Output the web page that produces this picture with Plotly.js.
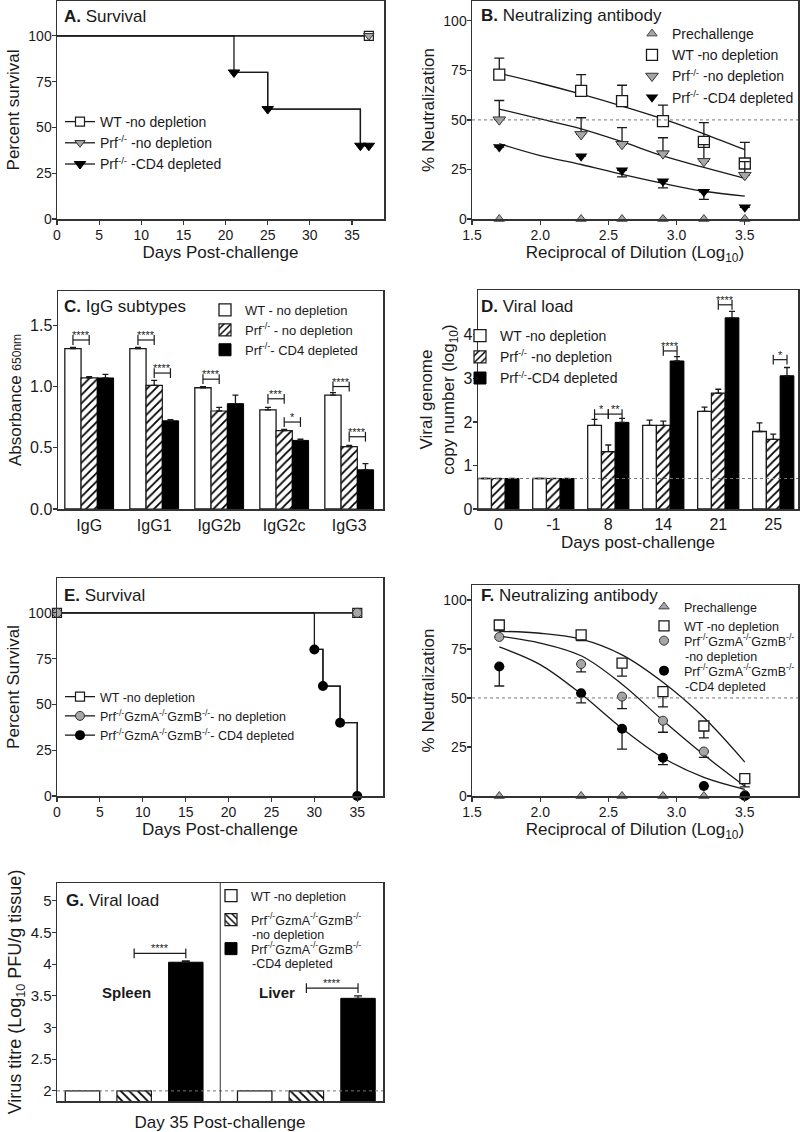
<!DOCTYPE html>
<html><head><meta charset="utf-8">
<script src="https://cdn.plot.ly/plotly-3.0.1.min.js"></script>
<style>body{margin:0;background:#fff}#chart{width:800px;height:1132px}</style>
</head><body><div id="chart"></div><script>
// ================= DATA =================
// A. Survival
const aDaysWT = [0, 37];
const aSurvWT = [100, 100];
const aDaysPrf = [0, 37];
const aSurvPrf = [100, 100];
const aDaysCD4 = [0, 21, 25, 36, 37];
const aSurvCD4 = [100, 80, 60, 40, 40];

// B. Neutralizing antibody
const bDil = [1.7, 2.3, 2.6, 2.9, 3.2, 3.5];
const bPre = [0, 0, 0, 0, 0, 0];
const bWT = [72.9, 64.7, 59.5, 49.4, 38.9, 28.0];
const bWTErr = [8.3, 8.2, 8.0, 8.1, 9.7, 10.7];
const bPrf = [50.1, 42.7, 37.7, 33.0, 29.1, 22.1];
const bPrfErr = [9.7, 8.4, 8.4, 8.0, 8.4, 6.9];
const bCD4 = [36.3, 31.7, 24.6, 19.1, 13.7, 5.9];
const bCD4Err = [0, 0, 3.3, 3.4, 3.8, 0];
const bFitX = [1.7, 2.0, 2.3, 2.6, 2.9, 3.2, 3.5];
const bFitWT = [73.5, 68.5, 63.0, 57.0, 50.5, 43.0, 35.0];
const bFitPrf = [55.5, 50.5, 45.5, 39.0, 31.8, 26.0, 20.5];
const bFitCD4 = [38.0, 32.0, 27.5, 22.5, 18.0, 14.0, 11.5];

// C. IgG subtypes
const subtypes = ['IgG', 'IgG1', 'IgG2b', 'IgG2c', 'IgG3'];
const cWT = [1.31, 1.31, 0.99, 0.81, 0.93];
const cWTErr = [0.01, 0.01, 0.01, 0.02, 0.02];
const cPrf = [1.07, 1.01, 0.80, 0.64, 0.51];
const cPrfErr = [0.01, 0.04, 0.03, 0.01, 0.01];
const cCD4 = [1.07, 0.72, 0.86, 0.56, 0.32];
const cCD4Err = [0.03, 0.01, 0.07, 0.01, 0.05];
const cSigGroup = [0, 1, 1, 2, 3, 3, 4, 4];
const cSigPair = ['wh', 'wh', 'hb', 'wh', 'wh', 'hb', 'wh', 'hb'];
const cSigY = [1.38, 1.38, 1.11, 1.06, 0.90, 0.71, 1.00, 0.59];
const cSigLabel = ['****', '****', '****', '****', '***', '*', '****', '****'];

// D. Viral load
const dDays = ['0', '-1', '8', '14', '21', '25'];
const dWT = [0.7, 0.7, 1.92, 1.92, 2.24, 1.78];
const dWTErr = [0, 0, 0.14, 0.12, 0.10, 0.20];
const dPrf = [0.7, 0.7, 1.32, 1.92, 2.66, 1.60];
const dPrfErr = [0, 0, 0.15, 0.10, 0.09, 0.12];
const dCD4 = [0.7, 0.7, 1.99, 3.40, 4.39, 3.06];
const dCD4Err = [0, 0, 0.09, 0.10, 0.15, 0.19];
const dLimit = 0.7;
const dSigGroup = [2, 2, 3, 4, 5];
const dSigPair = ['wh', 'hb', 'hb', 'hb', 'hb'];
const dSigY = [2.18, 2.18, 3.63, 4.69, 3.43];
const dSigLabel = ['*', '**', '****', '****', '*'];

// E. Survival
const eDaysWT = [0, 35];
const eSurvWT = [100, 100];
const eDaysPrf = [0, 35];
const eSurvPrf = [100, 100];
const eDaysCD4 = [0, 30, 31, 33, 35];
const eSurvCD4 = [100, 80, 60, 40, 0];

// F. Neutralizing antibody
const fDil = [1.7, 2.3, 2.6, 2.9, 3.2, 3.5];
const fPre = [0, 0, 0, 0, 0, 0];
const fWT = [87.2, 82.2, 67.8, 53.2, 35.7, 8.9];
const fWTErr = [3.0, 2.9, 6.7, 7.7, 6.1, 4.2];
const fPrf = [81.1, 67.3, 50.7, 38.4, 22.7, 0.5];
const fPrfErr = [0, 4.0, 6.1, 5.9, 3.0, 0];
const fCD4 = [66.0, 52.4, 34.3, 19.5, 5.1, 0];
const fCD4Err = [9.9, 4.9, 10.4, 3.5, 0, 0];
const fFitX = [1.7, 2.0, 2.3, 2.6, 2.9, 3.2, 3.5];
const fFitWT = [84.0, 83.0, 80.0, 72.0, 58.0, 40.0, 17.3];
const fFitPrf = [81.5, 78.0, 71.5, 57.0, 38.5, 21.0, 5.0];
const fFitCD4 = [76.0, 67.0, 52.0, 34.5, 19.5, 9.5, 3.4];

// G. Viral load
const tissues = ['Spleen', 'Liver'];
const gWT = [2, 2];
const gPrf = [2, 2];
const gCD4 = [4.03, 3.46];
const gCD4Err = [0.02, 0.04];
const gLimit = 2;
const gSigGroup = [0, 1];
const gSigY = [4.17, 3.62];
const gSigLabel = ['****', '****'];

// ================= STYLE HELPERS =================
const FONT = 'Liberation Sans, Arial, Helvetica, sans-serif';
const INK = '#1a1a1a';
const PX = x => x / 800;
const PY = y => 1 - y / 1132;
const idx = arr => arr.map((_, i) => i);
const zeros = arr => arr.map(() => 0);
const TKO = 'Prf<sup>-/-</sup>GzmA<sup>-/-</sup>GzmB<sup>-/-</sup>';

function ax(dom, anchor, extra) {
  return Object.assign({domain: dom, anchor: anchor, showline: true, mirror: true, linecolor: '#333', linewidth: 1.5,
    ticks: 'outside', ticklen: 4, tickwidth: 1.2, tickcolor: '#333', showgrid: false, zeroline: false,
    ticklabelstandoff: -3, tickfont: {size: 14}}, extra);
}
const open = {color: 'white', line: {color: INK, width: 1.3}};
const blackBar = {color: '#000', line: {color: '#000', width: 1}};
const hatch = sh => ({color: 'white', line: {color: INK, width: 1.2},
  pattern: {shape: sh, fgcolor: '#000', bgcolor: 'white', size: 6, solidity: 0.3}});
const errUp = (a, w) => ({type: 'data', symmetric: false, array: a, arrayminus: zeros(a), color: INK, thickness: 1.3, width: w});
const errDn = (a, w) => ({type: 'data', symmetric: false, array: zeros(a), arrayminus: a, color: INK, thickness: 1.3, width: w});
const stepLine = {shape: 'hv', color: INK, width: 1.3};

function bracket(groups, pairs, ys, offs, xa, ya) {
  const x = [], y = [];
  groups.forEach((g, i) => {
    const o = offs[pairs[i]];
    x.push(g + o[0], g + o[1], null);
    y.push(ys[i], ys[i], null);
  });
  return {type: 'scatter', mode: 'lines+markers', x, y, xaxis: xa, yaxis: ya, showlegend: false, hoverinfo: 'skip',
    cliponaxis: false, line: {color: INK, width: 1.2},
    marker: {symbol: 'line-ns-open', size: 7, color: INK, line: {color: INK, width: 1.2}}};
}
function sigText(groups, pairs, ys, labels, offs, xa, ya) {
  return groups.map((g, i) => {
    const o = offs[pairs[i]];
    return {xref: xa, yref: ya, x: g + (o[0] + o[1]) / 2, y: ys[i], yanchor: 'bottom', yshift: -3,
      text: labels[i], showarrow: false, font: {size: 11, color: INK}};
  });
}
let gid = 0;
const grp = () => 'g' + (gid++);

const traces = [];
// ---- A ----  (step lines first, then marked legend traces)
[[aDaysWT, aSurvWT], [aDaysPrf, aSurvPrf], [aDaysCD4, aSurvCD4]].forEach(s => traces.push({type: 'scatter', mode: 'lines',
  x: s[0], y: s[1], line: stepLine, showlegend: false, hoverinfo: 'skip', cliponaxis: false}));
traces.push({type: 'scatter', mode: 'lines+markers', x: aDaysWT.slice(1), y: aSurvWT.slice(1), name: 'WT -no depletion', legend: 'legend', legendgroup: grp(),
  line: stepLine, marker: {symbol: 'square', size: 9, color: 'white', line: {color: INK, width: 1.2}}, cliponaxis: false});
traces.push({type: 'scatter', mode: 'lines+markers', x: aDaysPrf.slice(1), y: aSurvPrf.slice(1), name: 'Prf<sup>-/-</sup> -no depletion', legend: 'legend', legendgroup: grp(),
  line: stepLine, marker: {symbol: 'triangle-down', size: 9, color: '#a6a6a6', line: {color: '#333', width: 1}}, cliponaxis: false});
traces.push({type: 'scatter', mode: 'lines+markers', x: aDaysCD4.slice(1), y: aSurvCD4.slice(1), name: 'Prf<sup>-/-</sup> -CD4 depleted', legend: 'legend', legendgroup: grp(),
  line: stepLine, marker: {symbol: 'triangle-down', size: 10, color: '#000', line: {color: '#000', width: 1}}, cliponaxis: false});

// ---- B ----
traces.push({type: 'scatter', mode: 'markers', x: bDil, y: bPre, xaxis: 'x2', yaxis: 'y2', name: 'Prechallenge', legend: 'legend2',
  marker: {symbol: 'triangle-up', size: 9, color: '#a6a6a6', line: {color: '#444', width: 1}}, cliponaxis: false});
[bFitWT, bFitPrf, bFitCD4].forEach(f => traces.push({type: 'scatter', mode: 'lines', x: bFitX, y: f, xaxis: 'x2', yaxis: 'y2',
  showlegend: false, line: {shape: 'spline', color: INK, width: 1.3}, hoverinfo: 'skip'}));
traces.push({type: 'scatter', mode: 'lines+markers', x: bDil, y: bWT, xaxis: 'x2', yaxis: 'y2', name: 'WT -no depletion', legend: 'legend2',
  line: {width: 0, color: INK}, marker: {symbol: 'square', size: 11, color: 'white', line: {color: INK, width: 1.3}}, error_y: errUp(bWTErr, 5), cliponaxis: false});
traces.push({type: 'scatter', mode: 'lines+markers', x: bDil, y: bPrf, xaxis: 'x2', yaxis: 'y2', name: 'Prf<sup>-/-</sup> -no depletion', legend: 'legend2',
  line: {width: 0, color: INK}, marker: {symbol: 'triangle-down', size: 11, color: '#a6a6a6', line: {color: '#333', width: 1}}, error_y: errUp(bPrfErr, 5), cliponaxis: false});
traces.push({type: 'scatter', mode: 'lines+markers', x: bDil, y: bCD4, xaxis: 'x2', yaxis: 'y2', name: 'Prf<sup>-/-</sup> -CD4 depleted', legend: 'legend2',
  line: {width: 0, color: INK}, marker: {symbol: 'triangle-down', size: 11, color: '#000'}, error_y: errDn(bCD4Err, 5), cliponaxis: false});

// ---- C ----
const cX = idx(subtypes);
traces.push({type: 'bar', x: cX, y: cWT, xaxis: 'x3', yaxis: 'y3', name: 'WT - no depletion', legend: 'legend3', legendgroup: grp(), marker: open, error_y: errUp(cWTErr, 3)});
traces.push({type: 'bar', x: cX, y: cPrf, xaxis: 'x3', yaxis: 'y3', name: 'Prf<sup>-/-</sup> - no depletion', legend: 'legend3', legendgroup: grp(), marker: hatch('/'), error_y: errUp(cPrfErr, 3)});
traces.push({type: 'bar', x: cX, y: cCD4, xaxis: 'x3', yaxis: 'y3', name: 'Prf<sup>-/-</sup>- CD4 depleted', legend: 'legend3', legendgroup: grp(), marker: blackBar, error_y: errUp(cCD4Err, 3)});
const OFF3 = {wh: [-0.25, 0], hb: [0, 0.25]};
traces.push(bracket(cSigGroup, cSigPair, cSigY, OFF3, 'x3', 'y3'));

// ---- D ----
const dX = idx(dDays);
traces.push({type: 'bar', x: dX, y: dWT, xaxis: 'x4', yaxis: 'y4', name: 'WT -no depletion', legend: 'legend4', marker: open, error_y: errUp(dWTErr, 3)});
traces.push({type: 'bar', x: dX, y: dPrf, xaxis: 'x4', yaxis: 'y4', name: 'Prf<sup>-/-</sup> -no depletion', legend: 'legend4', marker: hatch('/'), error_y: errUp(dPrfErr, 3)});
traces.push({type: 'bar', x: dX, y: dCD4, xaxis: 'x4', yaxis: 'y4', name: 'Prf<sup>-/-</sup>-CD4 depleted', legend: 'legend4', marker: blackBar, error_y: errUp(dCD4Err, 3)});
traces.push(bracket(dSigGroup, dSigPair, dSigY, OFF3, 'x4', 'y4'));

// ---- E ----
traces.push({type: 'scatter', mode: 'lines', x: eDaysCD4, y: eSurvCD4, xaxis: 'x5', yaxis: 'y5', line: stepLine, showlegend: false, hoverinfo: 'skip', cliponaxis: false});
traces.push({type: 'scatter', mode: 'lines+markers', x: eDaysWT, y: eSurvWT, xaxis: 'x5', yaxis: 'y5', name: 'WT -no depletion', legend: 'legend5', legendgroup: grp(),
  line: stepLine, marker: {symbol: 'square', size: 9, color: 'white', line: {color: INK, width: 1.2}}, cliponaxis: false});
traces.push({type: 'scatter', mode: 'lines+markers', x: eDaysPrf, y: eSurvPrf, xaxis: 'x5', yaxis: 'y5', name: TKO + '- no depletion', legend: 'legend5', legendgroup: grp(),
  line: stepLine, marker: {symbol: 'circle', size: 9, color: '#a6a6a6', line: {color: '#333', width: 1}}, cliponaxis: false});
traces.push({type: 'scatter', mode: 'lines+markers', x: eDaysCD4.slice(1), y: eSurvCD4.slice(1), xaxis: 'x5', yaxis: 'y5', name: TKO + '- CD4 depleted', legend: 'legend5', legendgroup: grp(),
  line: stepLine, marker: {symbol: 'circle', size: 10, color: '#000'}, cliponaxis: false});

// ---- F ----  (second line of the two-line legend labels is drawn as an annotation, see below)
traces.push({type: 'scatter', mode: 'markers', x: fDil, y: fPre, xaxis: 'x6', yaxis: 'y6', name: 'Prechallenge', legend: 'legend6',
  marker: {symbol: 'triangle-up', size: 9, color: '#a6a6a6', line: {color: '#444', width: 1}}, cliponaxis: false});
[fFitWT, fFitPrf, fFitCD4].forEach(f => traces.push({type: 'scatter', mode: 'lines', x: fFitX, y: f, xaxis: 'x6', yaxis: 'y6',
  showlegend: false, line: {shape: 'spline', color: INK, width: 1.3}, hoverinfo: 'skip'}));
traces.push({type: 'scatter', mode: 'lines+markers', x: fDil, y: fWT, xaxis: 'x6', yaxis: 'y6', name: 'WT -no depletion', legend: 'legend6',
  line: {width: 0, color: INK}, marker: {symbol: 'square', size: 10, color: 'white', line: {color: INK, width: 1.3}}, error_y: errDn(fWTErr, 5), cliponaxis: false});
traces.push({type: 'scatter', mode: 'lines+markers', x: fDil, y: fPrf, xaxis: 'x6', yaxis: 'y6', name: TKO, legend: 'legend8',
  line: {width: 0, color: INK}, marker: {symbol: 'circle', size: 9, color: '#a6a6a6', line: {color: '#333', width: 1}}, error_y: errDn(fPrfErr, 5), cliponaxis: false});
traces.push({type: 'scatter', mode: 'lines+markers', x: fDil, y: fCD4, xaxis: 'x6', yaxis: 'y6', name: TKO, legend: 'legend9',
  line: {width: 0, color: INK}, marker: {symbol: 'circle', size: 10, color: '#000'}, error_y: errDn(fCD4Err, 5), cliponaxis: false});

// ---- G ----
const gX = idx(tissues);
const gW = 0.2;
traces.push({type: 'bar', x: gX, y: gWT, xaxis: 'x7', yaxis: 'y7', name: 'WT -no depletion', legend: 'legend7', width: gW, offset: -0.4, marker: open});
traces.push({type: 'bar', x: gX, y: gPrf, xaxis: 'x7', yaxis: 'y7', name: TKO, legend: 'legend10', width: gW, offset: -0.1, marker: hatch('\\')});
traces.push({type: 'bar', x: gX, y: gCD4, xaxis: 'x7', yaxis: 'y7', name: TKO, legend: 'legend11', width: gW, offset: 0.2, marker: blackBar, error_y: errUp(gCD4Err, 4)});
const OFF7 = {hb: [0, 0.3]};
const gPairs = gSigGroup.map(() => 'hb');
traces.push(bracket(gSigGroup, gPairs, gSigY, OFF7, 'x7', 'y7'));

// ================= LAYOUT =================
const T = (t, so, s) => ({text: t, standoff: so, font: {size: s || 17}});
const dotted = (xr, yr, v) => ({type: 'line', xref: xr + ' domain', yref: yr, x0: 0, x1: 1, y0: v, y1: v, line: {color: '#777', width: 1, dash: 'dot'}, layer: 'above'});
const legendCfg = (x, y, s, gap) => ({x: PX(x), y: PY(y), xanchor: 'left', yanchor: 'top', bgcolor: 'rgba(0,0,0,0)',
  font: {size: s, color: INK}, itemwidth: 30, tracegroupgap: gap || 0, traceorder: 'normal'});
const panelTitle = (x, y, letter, text) => ({xref: 'paper', yref: 'paper', x: PX(x), y: PY(y), xanchor: 'left', yanchor: 'middle',
  text: '<b>' + letter + '.</b> ' + text, showarrow: false, font: {size: 17, color: INK}});
const legendLine2 = (x, y, text) => ({xref: 'paper', yref: 'paper', x: PX(x), y: PY(y), xanchor: 'left', yanchor: 'middle',
  text: text, showarrow: false, font: {size: 12.5, color: INK}});

const annotations = [
  panelTitle(62, 17, 'A', 'Survival'),
  panelTitle(479, 16, 'B', 'Neutralizing antibody'),
  panelTitle(62, 307, 'C', 'IgG subtypes'),
  panelTitle(479, 307, 'D', 'Viral load'),
  panelTitle(62, 595, 'E', 'Survival'),
  panelTitle(479, 595, 'F', 'Neutralizing antibody'),
  panelTitle(64, 900, 'G', 'Viral load'),
  legendLine2(683, 657, '-no depletion'),
  legendLine2(683, 687, '-CD4 depleted'),
  legendLine2(250, 935, '-no depletion'),
  legendLine2(250, 964, '-CD4 depleted'),
  {xref: 'paper', yref: 'paper', x: PX(100), y: PY(1003), text: '<b>' + tissues[0] + '</b>', showarrow: false, font: {size: 15, color: INK}},
  {xref: 'paper', yref: 'paper', x: PX(257), y: PY(1003), text: '<b>' + tissues[1] + '</b>', showarrow: false, font: {size: 15, color: INK}},
  ...sigText(cSigGroup, cSigPair, cSigY, cSigLabel, OFF3, 'x3', 'y3'),
  ...sigText(dSigGroup, dSigPair, dSigY, dSigLabel, OFF3, 'x4', 'y4'),
  ...sigText(gSigGroup, gPairs, gSigY, gSigLabel, OFF7, 'x7', 'y7')
];

const numX = {ticklabelstandoff: -1};
const layout = {
  width: 800, height: 1132, margin: {l: 0, r: 0, t: 0, b: 0},
  paper_bgcolor: 'white', plot_bgcolor: 'white',
  font: {family: FONT, color: INK, size: 14},
  barmode: 'group', bargap: 0.25, bargroupgap: 0,
  hovermode: false,
  xaxis: ax([PX(57), PX(384)], 'y', Object.assign({range: [0, 38.8], tickvals: [0, 5, 10, 15, 20, 25, 30, 35], title: T('Days Post-challenge', 4)}, numX)),
  yaxis: ax([PY(219), PY(1)], 'x', {range: [0, 119], tickvals: [0, 25, 50, 75, 100], title: T('Percent survival', 4)}),
  xaxis2: ax([PX(472), PX(798)], 'y2', Object.assign({range: [1.5, 3.89], tickvals: [1.5, 2, 2.5, 3, 3.5], tickformat: '.1f', title: T('Reciprocal of Dilution (Log<sub>10</sub>)', 4)}, numX)),
  yaxis2: ax([PY(219), PY(1)], 'x2', {range: [0, 110], tickvals: [0, 25, 50, 75, 100], title: T('% Neutralization', 4)}),
  xaxis3: ax([PX(58), PX(383)], 'y3', {range: [-0.48, 4.52], tickvals: cX, ticktext: subtypes, ticks: '', ticklabelstandoff: 1, tickfont: {size: 16}}),
  yaxis3: ax([PY(509), PY(291)], 'x3', {range: [0, 1.78], tickvals: [0, 0.5, 1, 1.5], tickformat: '.1f', tickfont: {size: 16}, title: T('Absorbance <span style="font-size:12px">650nm</span>', 4)}),
  xaxis4: ax([PX(478), PX(798)], 'y4', {range: [-0.37, 5.45], tickvals: dX, ticktext: dDays, ticks: '', ticklabelstandoff: 0, tickfont: {size: 16}, title: T('Days post-challenge', 0)}),
  yaxis4: ax([PY(509), PY(290)], 'x4', {range: [0, 5.03], tickvals: [0, 1, 2, 3, 4], tickfont: {size: 16}, title: T('Viral genome<br>copy number (log<sub>10</sub>)', 4)}),
  xaxis5: ax([PX(57), PX(383)], 'y5', Object.assign({range: [0, 38], tickvals: [0, 5, 10, 15, 20, 25, 30, 35], title: T('Days Post-challenge', 4)}, numX)),
  yaxis5: ax([PY(796), PY(578)], 'x5', {range: [0, 119], tickvals: [0, 25, 50, 75, 100], title: T('Percent Survival', 4)}),
  xaxis6: ax([PX(472), PX(798)], 'y6', Object.assign({range: [1.5, 3.89], tickvals: [1.5, 2, 2.5, 3, 3.5], tickformat: '.1f', title: T('Reciprocal of Dilution (Log<sub>10</sub>)', 4)}, numX)),
  yaxis6: ax([PY(796), PY(585)], 'x6', {range: [0, 107.6], tickvals: [0, 25, 50, 75, 100], title: T('% Neutralization', 4)}),
  xaxis7: ax([PX(57), PX(383)], 'y7', {range: [-0.448, 1.445], showticklabels: false, ticks: '', title: T('Day 35 Post-challenge')}),
  yaxis7: ax([PY(1101), PY(883)], 'x7', {range: [1.84, 5.28], tickvals: [2, 2.5, 3, 3.5, 4, 4.5, 5], tickfont: {size: 15}, title: T('Virus titre (Log<sub>10</sub> PFU/g tissue)', 4, 18)}),
  legend: legendCfg(60, 106, 14, 4),
  legend2: legendCfg(632, 18, 14),
  legend3: legendCfg(205, 295, 13, 1),
  legend4: legendCfg(460, 320, 14),
  legend5: legendCfg(60, 682, 12.5, 2.5),
  legend6: legendCfg(644, 592, 12.5),
  legend8: legendCfg(644, 626, 12.5),
  legend9: legendCfg(644, 656, 12.5),
  legend7: legendCfg(211, 881, 12.5),
  legend10: legendCfg(211, 905, 12.5),
  legend11: legendCfg(211, 934, 12.5),
  shapes: [
    dotted('x2', 'y2', 50),
    dotted('x4', 'y4', dLimit),
    dotted('x6', 'y6', 50),
    dotted('x7', 'y7', gLimit),
    {type: 'line', xref: 'x7', yref: 'y7 domain', x0: 0.5, x1: 0.5, y0: 0, y1: 1, line: {color: '#333', width: 1}}
  ],
  annotations: annotations
};

Plotly.newPlot('chart', traces, layout, {staticPlot: true});
</script></body></html>
